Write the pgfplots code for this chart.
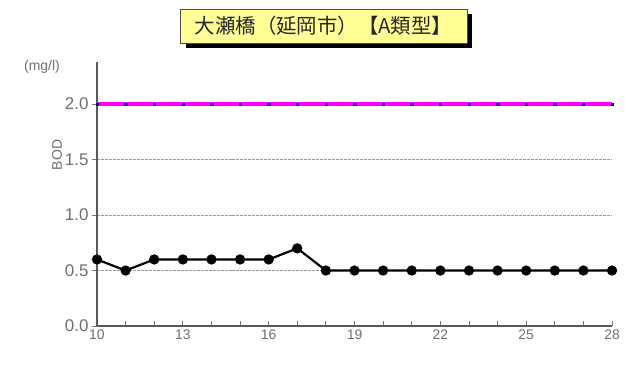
\documentclass[border=0pt]{standalone}
\usepackage{pgfplots}
\pgfplotsset{compat=1.18}
\usepackage{fontspec}
\setmainfont{Liberation Sans}
\newfontfamily\cjk{Noto Sans CJK JP}
\definecolor{txt}{RGB}{110,110,110}
\definecolor{titlebg}{RGB}{255,255,150}
\begin{document}
\begin{tikzpicture}[x=1bp,y=1bp]
\path[use as bounding box] (0,0) rectangle (632,365);
\begin{axis}[
  at={(97bp,39bp)}, anchor=south west,
  scale only axis, width=515bp, height=264bp,
  xmin=10, xmax=28, ymin=0, ymax=2.38,
  axis x line*=bottom, axis y line*=left,
  axis line style={draw=black!65, line width=1.2pt, -},
  xtick={10,13,16,19,22,25,28},
  minor xtick={10,...,28},
  ytick={0,0.5,1.0,1.5,2.0},
  yticklabels={0.0,0.5,1.0,1.5,2.0},
  /pgf/number format/assume math mode=true,
  xticklabel style={font=\fontsize{14}{14}\selectfont, text=txt},
  yticklabel style={font=\fontsize{17}{17}\selectfont, text=txt},
  tick style={draw=black!55, line width=0.8pt},
  major tick length=5bp, minor tick length=5bp,
  xtick align=inside, ytick align=outside,
  ymajorgrids, grid style={draw=black!40, line width=1pt, dash pattern=on 3pt off 1pt},
  clip=false,
]
\addplot[draw={rgb,255:red,255;green,0;blue,255}, line width=3.5pt, mark=square*, mark size=1.2pt,
  mark options={fill=blue!50!black, draw=blue!50!black, line width=0.2pt}]
  coordinates {(10,2.0)(11,2.0)(12,2.0)(13,2.0)(14,2.0)(15,2.0)(16,2.0)(17,2.0)(18,2.0)(19,2.0)(20,2.0)(21,2.0)(22,2.0)(23,2.0)(24,2.0)(25,2.0)(26,2.0)(27,2.0)(28,2.0)};
\addplot[draw=black, line width=2.2pt, mark=*, mark size=4bp, mark options={fill=black}]
  coordinates {(10,0.6)(11,0.5)(12,0.6)(13,0.6)(14,0.6)(15,0.6)(16,0.6)(17,0.7)(18,0.5)(19,0.5)(20,0.5)(21,0.5)(22,0.5)(23,0.5)(24,0.5)(25,0.5)(26,0.5)(27,0.5)(28,0.5)};
\end{axis}
\node[text=txt, font=\fontsize{14}{14}\selectfont, anchor=center] at (42,298) {(mg/l)};
\node[text=txt, font=\fontsize{14}{14}\selectfont, rotate=90] at (57,210) {BOD};
\fill[black] (186,317) rectangle (472,351);
\draw[fill=titlebg, draw=black!70, line width=0.8pt] (180,322) rectangle (467,356);
\node[font=\cjk\fontsize{20.5}{20.5}\selectfont, text=black!85] at (323.5,339) {大瀬橋（延岡市）【A類型】};
\end{tikzpicture}
\end{document}
